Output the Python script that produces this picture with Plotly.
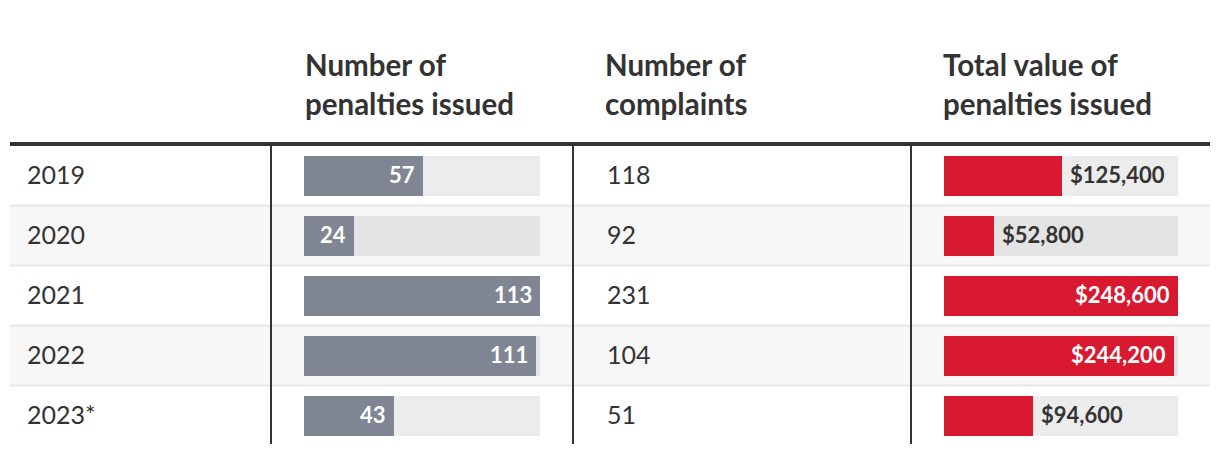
import plotly.graph_objects as go

# ---- data ----
years = ["2019", "2020", "2021", "2022", "2023*"]
penalties = [57, 24, 113, 111, 43]
complaints = [118, 92, 231, 104, 51]
values = [125400, 52800, 248600, 244200, 94600]
header_penalties = ["Number of", "penalties issued"]
header_complaints = ["Number of", "complaints"]
header_values = ["Total value of", "penalties issued"]

OFF = 8  # default page body margin
W, H = 1220 - OFF, 454 - OFF
ROW0, PITCH = 175.5 - OFF, 60.0
FONT = "Lato"
DARK = "#333333"
GRAY = "#7f8593"
RED = "#d8192f"
TRACK = "rgba(0,0,0,0.075)"

rows = list(range(len(years)))


def px(x):
    return (x - OFF) / W


def py(y):
    return 1 - (y - OFF) / H


fig = go.Figure()

pmax = max(penalties)
vmax = max(values)
bw = 40 / PITCH

# penalties column bars
fig.add_trace(go.Bar(x=[pmax] * len(rows), y=rows, orientation="h", width=bw,
                     marker=dict(color=TRACK, line=dict(width=0)),
                     xaxis="x", yaxis="y", hoverinfo="skip"))
fig.add_trace(go.Bar(x=penalties, y=rows, orientation="h", width=bw,
                     marker=dict(color=GRAY, line=dict(width=0)),
                     xaxis="x", yaxis="y", hoverinfo="skip"))
# value column bars
fig.add_trace(go.Bar(x=[vmax] * len(rows), y=rows, orientation="h", width=bw,
                     marker=dict(color=TRACK, line=dict(width=0)),
                     xaxis="x2", yaxis="y", hoverinfo="skip"))
fig.add_trace(go.Bar(x=values, y=rows, orientation="h", width=bw,
                     marker=dict(color=RED, line=dict(width=0)),
                     xaxis="x2", yaxis="y", hoverinfo="skip"))

shapes = []
# alternating row backgrounds
for i in rows:
    if i % 2 == 1:
        shapes.append(dict(type="rect", xref="paper", yref="y", x0=px(10), x1=px(1210),
                           y0=i - 0.5, y1=i + 0.5, fillcolor="#f7f7f7",
                           line=dict(width=0), layer="below"))
# row separators
for i in rows[:-1]:
    shapes.append(dict(type="line", xref="paper", yref="y", x0=px(10), x1=px(1210),
                       y0=i + 0.5, y1=i + 0.5, line=dict(color="#e8e8e8", width=2),
                       layer="below"))
# header rule
shapes.append(dict(type="line", xref="paper", yref="paper", x0=px(10), x1=px(1210),
                   y0=py(144), y1=py(144), line=dict(color=DARK, width=4)))
# column dividers
for xv in [271, 573, 911]:
    shapes.append(dict(type="line", xref="paper", yref="paper", x0=px(xv), x1=px(xv),
                       y0=py(146), y1=py(444), line=dict(color=DARK, width=2)))

ann = []
# headers
for xh, lines in [(303, header_penalties), (603, header_complaints), (941, header_values)]:
    for k, t in enumerate(lines):
        ann.append(dict(xref="paper", yref="paper", x=px(xh), y=py(64 + 39 * k),
                        text="<b>" + t + "</b>", showarrow=False, xanchor="left",
                        yanchor="middle", font=dict(family=FONT, size=29.5, color=DARK)))
# year and complaints text
for i in rows:
    ann.append(dict(xref="paper", yref="y", x=px(25), y=i, text=years[i], showarrow=False,
                    xanchor="left", yanchor="middle", yshift=2,
                    font=dict(family=FONT, size=25, color=DARK)))
    ann.append(dict(xref="paper", yref="y", x=px(605), y=i, text=str(complaints[i]),
                    showarrow=False, xanchor="left", yanchor="middle", yshift=2,
                    font=dict(family=FONT, size=25, color=DARK)))
# bar labels
for i in rows:
    ann.append(dict(xref="x", yref="y", x=penalties[i], y=i, text="<b>%d</b>" % penalties[i],
                    showarrow=False, xanchor="right", yanchor="middle", xshift=-6, yshift=1,
                    font=dict(family=FONT, size=22, color="white")))
    inside = values[i] / vmax >= 0.6
    ann.append(dict(xref="x2", yref="y", x=values[i], y=i,
                    text="<b>$%s</b>" % format(values[i], ","), showarrow=False,
                    xanchor="right" if inside else "left", yanchor="middle",
                    xshift=-6 if inside else 6, yshift=1,
                    font=dict(family=FONT, size=22, color="white" if inside else DARK)))

fig.update_layout(
    width=W, height=H, margin=dict(l=0, r=0, t=0, b=0),
    paper_bgcolor="white", plot_bgcolor="rgba(0,0,0,0)",
    barmode="overlay", showlegend=False, bargap=0,
    xaxis=dict(domain=[px(304), px(540)], range=[0, pmax], visible=False, fixedrange=True),
    xaxis2=dict(domain=[px(944), px(1178)], range=[0, vmax], visible=False, fixedrange=True,
                anchor="y"),
    yaxis=dict(domain=[0, 1], range=[(H - ROW0) / PITCH, -ROW0 / PITCH], visible=False,
               fixedrange=True),
    shapes=shapes, annotations=ann,
)

fig.write_html("out.html")
